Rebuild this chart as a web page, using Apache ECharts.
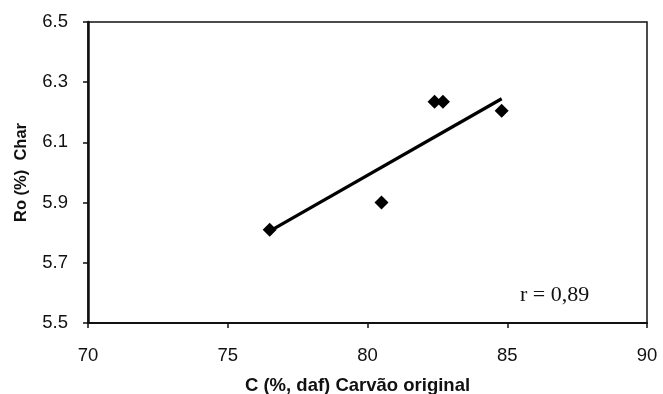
<!DOCTYPE html>
<html>
<head>
<meta charset="utf-8">
<script src="https://cdn.jsdelivr.net/npm/echarts@6/dist/echarts.min.js"></script>
<style>
  html, body { margin: 0; padding: 0; background: #fff; }
  #chart { width: 663px; height: 394px; }
</style>
</head>
<body>
<div id="chart"></div>
<script>
// Carbon content of the original coal vs. char reflectance
const carbonDaf = [76.5, 80.5, 82.4, 82.7, 84.8];
const reflectanceChar = [5.81, 5.90, 6.235, 6.235, 6.205];

// Linear trend endpoints
const trendX = [76.5, 84.8];
const trendY = [5.805, 6.245];

const xTicks = [70, 75, 80, 85, 90];
const yTicks = [5.5, 5.7, 5.9, 6.1, 6.3, 6.5];
const correlationLabel = 'r = 0,89';

const points = carbonDaf.map((x, i) => [x, reflectanceChar[i]]);
const trend = trendX.map((x, i) => [x, trendY[i]]);

const chart = echarts.init(document.getElementById('chart'), null, { renderer: 'canvas' });

const sans = 'Liberation Sans, Arial, sans-serif';
const labelFont = { color: '#111', fontFamily: sans, fontSize: 18.5 };

chart.setOption({
  animation: false,
  backgroundColor: '#fff',
  grid: {
    left: 88, right: 16, top: 22, bottom: 71,
    containLabel: false,
    outerBoundsMode: 'none',
    show: true, borderColor: '#111', borderWidth: 1.5, backgroundColor: 'transparent'
  },
  xAxis: {
    type: 'value',
    min: xTicks[0], max: xTicks[xTicks.length - 1], interval: 5,
    splitLine: { show: false },
    axisLine: { onZero: false, lineStyle: { color: '#111', width: 2 } },
    axisTick: { show: true, length: 5, lineStyle: { color: '#111', width: 1.5 } },
    axisLabel: { ...labelFont, margin: 23 },
    name: 'C (%, daf) Carvão original',
    nameLocation: 'middle',
    nameGap: 53,
    nameTextStyle: { color: '#111', fontFamily: sans, fontSize: 18.5, fontWeight: 'bold', padding: [0, 20, 0, 0] }
  },
  yAxis: {
    type: 'value',
    min: yTicks[0], max: yTicks[yTicks.length - 1], interval: 0.1,
    splitLine: { show: false },
    axisLine: { onZero: false, lineStyle: { color: '#111', width: 2.5 } },
    axisTick: { show: true, length: 5, customValues: yTicks, lineStyle: { color: '#111', width: 1.5 } },
    axisLabel: { ...labelFont, margin: 20, customValues: yTicks, formatter: v => v.toFixed(1) },
    name: 'Ro (%)  Char',
    nameLocation: 'middle',
    nameGap: 58,
    nameRotate: 90,
    nameTextStyle: { color: '#111', fontFamily: sans, fontSize: 16.5, fontWeight: 'bold' }
  },
  series: [
    {
      type: 'line',
      data: trend,
      symbol: 'none',
      lineStyle: { color: '#000', width: 3.2 },
      z: 2
    },
    {
      type: 'scatter',
      data: points,
      symbol: 'diamond',
      symbolSize: 14,
      itemStyle: { color: '#000', opacity: 1 },
      z: 3
    }
  ],
  graphic: [
    {
      type: 'text',
      left: 520, top: 284,
      style: { text: correlationLabel, fill: '#111', font: '22px "Liberation Serif", "Times New Roman", serif' }
    }
  ]
});
</script>
</body>
</html>
